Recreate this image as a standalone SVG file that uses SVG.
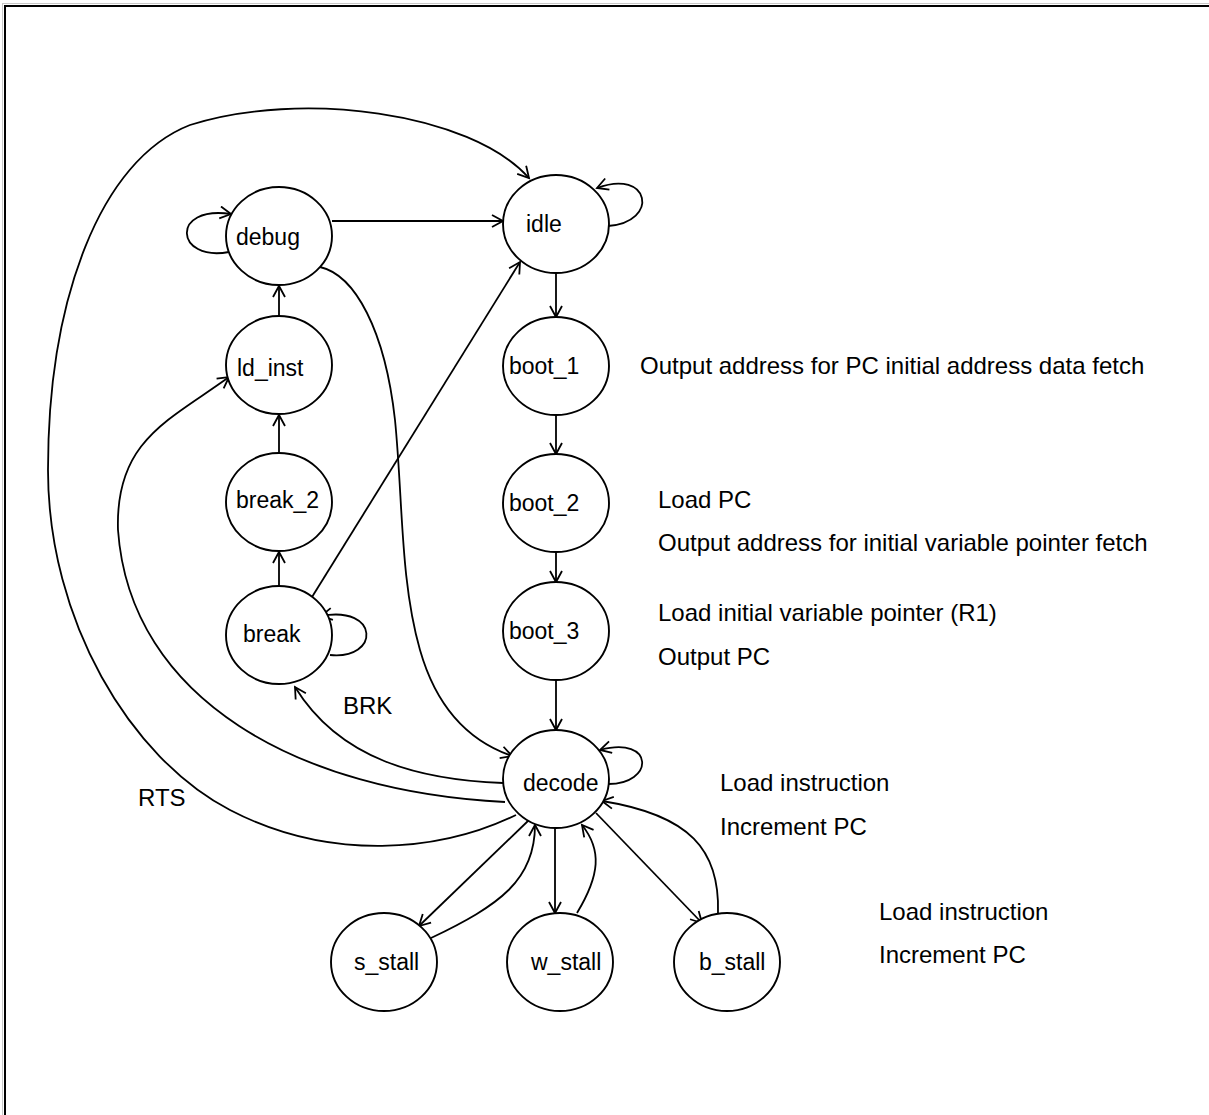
<svg xmlns="http://www.w3.org/2000/svg" width="1209" height="1115" viewBox="0 0 1209 1115">
<defs>
<marker id="arr" markerWidth="16" markerHeight="16" refX="12" refY="7" orient="auto" markerUnits="userSpaceOnUse">
<path d="M1,1 L12,7 L1,13" fill="none" stroke="#000" stroke-width="1.8"/>
</marker>
<style>
.n{fill:#fff;stroke:#000;stroke-width:1.9}
.t{font-family:"Liberation Sans",Arial,sans-serif;font-size:23px;fill:#000}
.s{font-family:"Liberation Sans",Arial,sans-serif;font-size:24px;fill:#000}
.e{fill:none;stroke:#000;stroke-width:1.8;marker-end:url(#arr)}
</style>
</defs>
<rect x="0" y="0" width="1209" height="1115" fill="#fff"/>
<rect x="2.5" y="3.5" width="1240" height="1140" fill="none" stroke="#c8c8c8" stroke-width="1"/>
<rect x="5" y="6" width="1240" height="1140" fill="none" stroke="#000" stroke-width="2"/>

<g id="connectors">
<path class="e" d="M229 252 C175 262,170 205,231 214"/>
<path class="e" d="M332 221 L503 221"/>
<path class="e" d="M608 226 C660 222,650 168,597 188"/>
<path class="e" d="M516 815 C440 852,330 862,230 810 C130 758,48 620,48 470 C48 300,100 160,190 125 C300 90,470 112,529 178"/>
<path class="e" d="M505 802 C300 792,130 700,118 530 C115 440,170 420,229 377"/>
<path class="e" d="M503 783 C420 780,340 760,295 687"/>
<path class="e" d="M320 267 C355 275,385 330,395 420 C403 500,400 580,420 650 C440 720,480 745,512 756"/>
<path class="e" d="M312 597 L520 262"/>
<path class="e" d="M330 655 C380 660,380 605,321 616"/>
<path class="e" d="M279 585 L279 552"/>
<path class="e" d="M279 452 L279 415"/>
<path class="e" d="M279 315 L279 286"/>
<path class="e" d="M556 273 L556 317"/>
<path class="e" d="M556 415 L556 454"/>
<path class="e" d="M556 553 L556 582"/>
<path class="e" d="M556 680 L556 730"/>
<path class="e" d="M607 784 C655 785,655 735,600 750"/>
<path class="e" d="M529 820 L419 926"/>
<path class="e" d="M431 938 C500 905,535 880,535 825"/>
<path class="e" d="M555 828 L555 913"/>
<path class="e" d="M577 913 C600 875,602 850,582 825"/>
<path class="e" d="M596 813 L702 923"/>
<path class="e" d="M718 913 C720 850,690 815,602 801"/>
</g>

<g id="debug"><ellipse class="n" cx="279" cy="236" rx="53" ry="49"/><text class="t" x="236" y="245">debug</text></g>
<g id="idle"><ellipse class="n" cx="556" cy="224" rx="53" ry="49"/><text class="t" x="526" y="232">idle</text></g>
<g id="ld_inst"><ellipse class="n" cx="279" cy="365" rx="53" ry="49"/><text class="t" x="237" y="376">ld_inst</text></g>
<g id="break_2"><ellipse class="n" cx="279" cy="502" rx="53" ry="49"/><text class="t" x="236" y="508">break_2</text></g>
<g id="break"><ellipse class="n" cx="279" cy="635" rx="53" ry="49"/><text class="t" x="243" y="642">break</text></g>
<g id="boot_1"><ellipse class="n" cx="556" cy="366" rx="53" ry="49"/><text class="t" x="509" y="374">boot_1</text></g>
<g id="boot_2"><ellipse class="n" cx="556" cy="503" rx="53" ry="49"/><text class="t" x="509" y="511">boot_2</text></g>
<g id="boot_3"><ellipse class="n" cx="556" cy="631" rx="53" ry="49"/><text class="t" x="509" y="639">boot_3</text></g>
<g id="decode"><ellipse class="n" cx="556" cy="779" rx="53" ry="49"/><text class="t" x="523" y="791">decode</text></g>
<g id="s_stall"><ellipse class="n" cx="384" cy="962" rx="53" ry="49"/><text class="t" x="354" y="970">s_stall</text></g>
<g id="w_stall"><ellipse class="n" cx="560" cy="962" rx="53" ry="49"/><text class="t" x="531" y="970">w_stall</text></g>
<g id="b_stall"><ellipse class="n" cx="727" cy="962" rx="53" ry="49"/><text class="t" x="699" y="970">b_stall</text></g>

<g id="labels">
<text class="s" x="343" y="714">BRK</text>
<text class="s" x="138" y="806">RTS</text>
<text class="s" x="640" y="374">Output address for PC initial address data fetch</text>
<text class="s" x="658" y="508">Load PC</text>
<text class="s" x="658" y="551">Output address for initial variable pointer fetch</text>
<text class="s" x="658" y="621">Load initial variable pointer (R1)</text>
<text class="s" x="658" y="665">Output PC</text>
<text class="s" x="720" y="791">Load instruction</text>
<text class="s" x="720" y="835">Increment PC</text>
<text class="s" x="879" y="920">Load instruction</text>
<text class="s" x="879" y="963">Increment PC</text>
</g>
</svg>
